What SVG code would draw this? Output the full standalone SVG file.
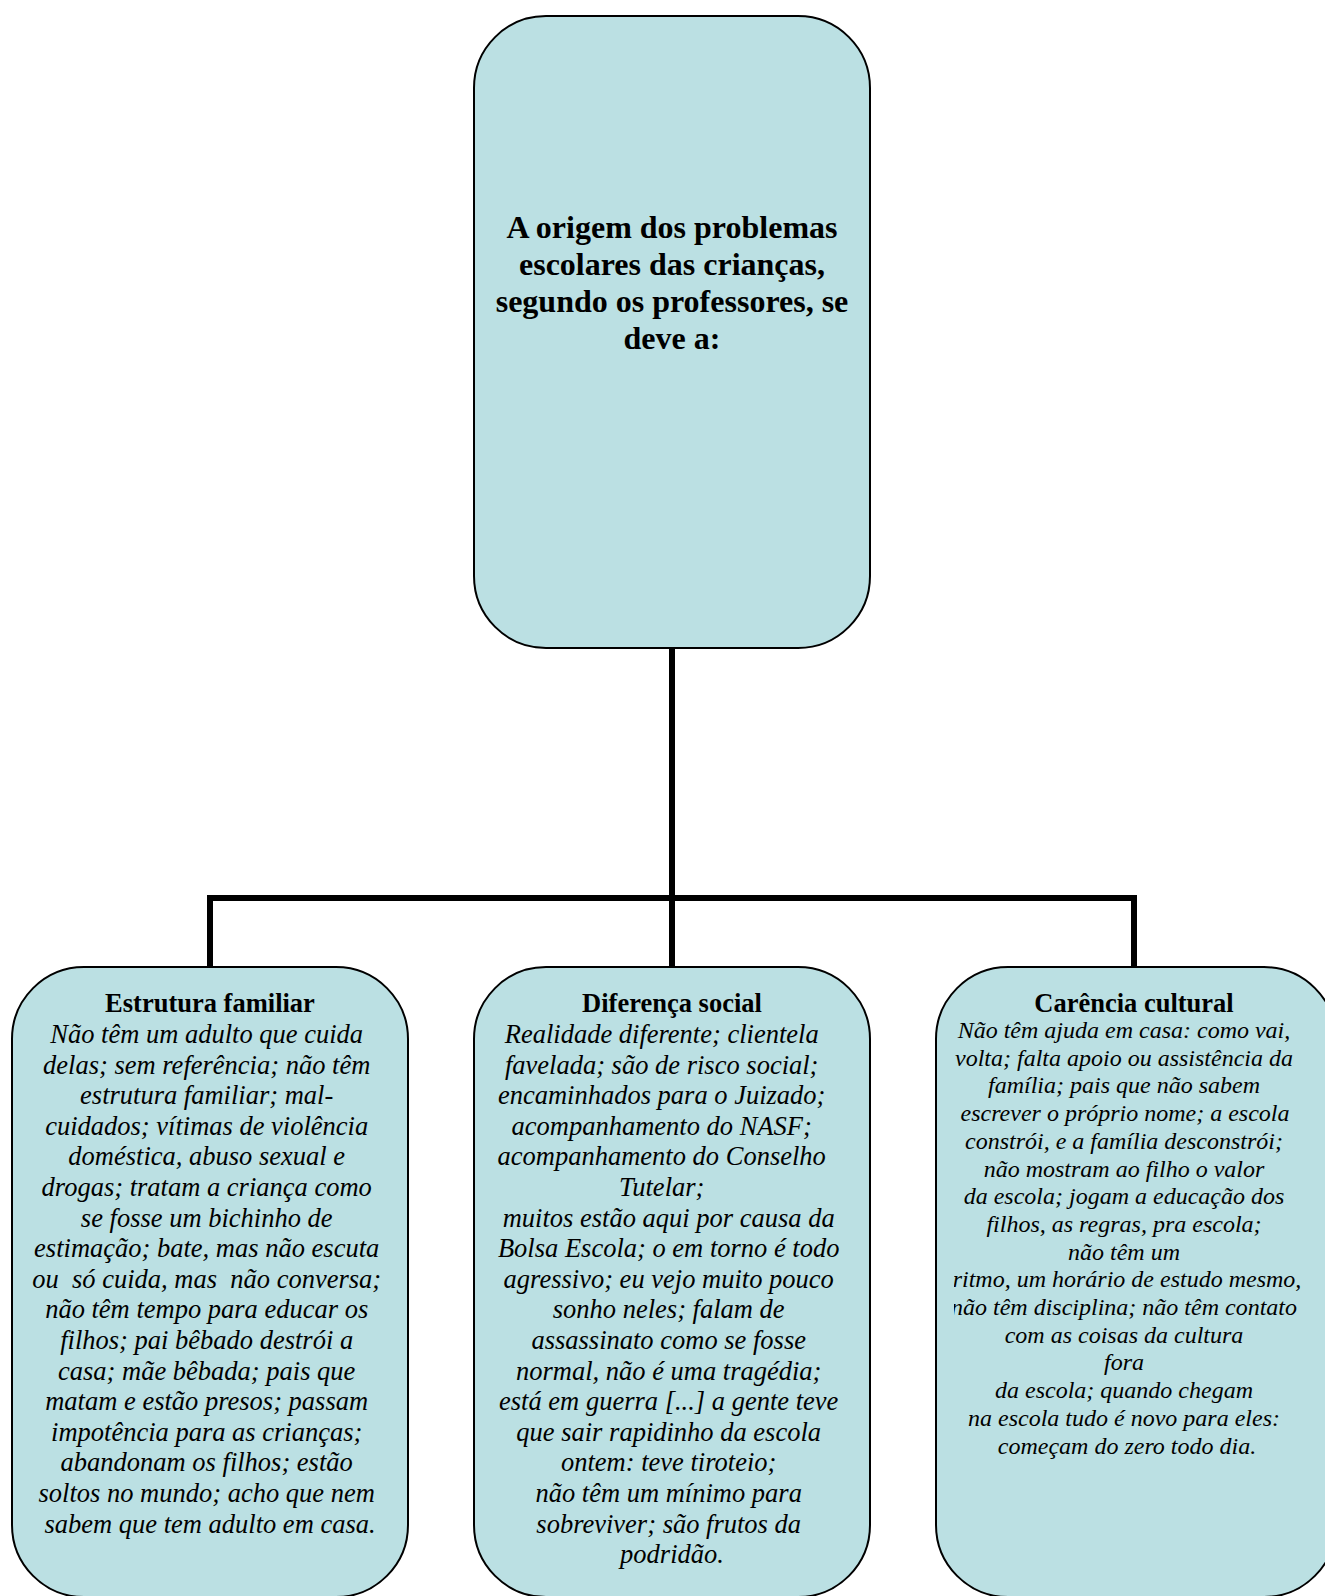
<svg xmlns="http://www.w3.org/2000/svg" width="1325" height="1596" viewBox="0 0 1325 1596">
<style>
.box{fill:#BBE0E3;stroke:#000;stroke-width:2}
.conn{fill:none;stroke:#000;stroke-width:6}
.title{font-family:"Liberation Serif","Times New Roman",serif;font-weight:bold;font-size:32px;text-anchor:middle;fill:#000}
.head{font-family:"Liberation Serif","Times New Roman",serif;font-weight:bold;font-size:26.5px;text-anchor:middle;fill:#000}
.body{font-family:"Liberation Serif","Times New Roman",serif;font-style:italic;font-size:26.5px;text-anchor:middle;fill:#000}
.body2{font-family:"Liberation Serif","Times New Roman",serif;font-style:italic;font-size:24px;text-anchor:middle;fill:#000}
</style>
<defs>
<clipPath id="rc"><rect x="954" y="960" width="371" height="640"/></clipPath>
</defs>
<g id="connectors">
<path class="conn" d="M672,648 V898 M210,898 H1134 M210,895 V967 M672,898 V967 M1134,895 V967"/>
</g>
<g id="root">
<rect class="box" x="474" y="16" width="396" height="632" rx="72" ry="72"/>
<text class="title" x="672" y="238">A origem dos problemas</text>
<text class="title" x="672" y="275">escolares das crianças,</text>
<text class="title" x="672" y="312">segundo os professores, se</text>
<text class="title" x="672" y="349">deve a:</text>
</g>
<g id="estrutura">
<rect class="box" x="12" y="967" width="396" height="630" rx="72" ry="72"/>
<text class="head" x="210" y="1012">Estrutura familiar</text>
<text class="body" x="210">
<tspan x="210" y="1043">Não têm um adulto que cuida</tspan>
<tspan x="210" dy="30.6">delas; sem referência; não têm</tspan>
<tspan x="210" dy="30.6">estrutura familiar; mal-</tspan>
<tspan x="210" dy="30.6">cuidados; vítimas de violência</tspan>
<tspan x="210" dy="30.6">doméstica, abuso sexual e</tspan>
<tspan x="210" dy="30.6">drogas; tratam a criança como</tspan>
<tspan x="210" dy="30.6">se fosse um bichinho de</tspan>
<tspan x="210" dy="30.6">estimação; bate, mas não escuta</tspan>
<tspan x="210" dy="30.6">ou&#160; só cuida, mas&#160; não conversa;</tspan>
<tspan x="210" dy="30.6">não têm tempo para educar os</tspan>
<tspan x="210" dy="30.6">filhos; pai bêbado destrói a</tspan>
<tspan x="210" dy="30.6">casa; mãe bêbada; pais que</tspan>
<tspan x="210" dy="30.6">matam e estão presos; passam</tspan>
<tspan x="210" dy="30.6">impotência para as crianças;</tspan>
<tspan x="210" dy="30.6">abandonam os filhos; estão</tspan>
<tspan x="210" dy="30.6">soltos no mundo; acho que nem</tspan>
<tspan x="210" dy="30.6">sabem que tem adulto em casa.</tspan>
</text>
</g>
<g id="diferenca">
<rect class="box" x="474" y="967" width="396" height="630" rx="72" ry="72"/>
<text class="head" x="672" y="1012">Diferença social</text>
<text class="body" x="665">
<tspan x="665" y="1043">Realidade diferente; clientela</tspan>
<tspan x="665" dy="30.6">favelada; são de risco social;</tspan>
<tspan x="665" dy="30.6">encaminhados para o Juizado;</tspan>
<tspan x="665" dy="30.6">acompanhamento do NASF;</tspan>
<tspan x="665" dy="30.6">acompanhamento do Conselho</tspan>
<tspan x="665" dy="30.6">Tutelar;</tspan>
<tspan x="672" dy="30.6">muitos estão aqui por causa da</tspan>
<tspan x="672" dy="30.6">Bolsa Escola; o em torno é todo</tspan>
<tspan x="672" dy="30.6">agressivo; eu vejo muito pouco</tspan>
<tspan x="672" dy="30.6">sonho neles; falam de</tspan>
<tspan x="672" dy="30.6">assassinato como se fosse</tspan>
<tspan x="672" dy="30.6">normal, não é uma tragédia;</tspan>
<tspan x="672" dy="30.6">está em guerra [...] a gente teve</tspan>
<tspan x="672" dy="30.6">que sair rapidinho da escola</tspan>
<tspan x="672" dy="30.6">ontem: teve tiroteio;</tspan>
<tspan x="672" dy="30.6">não têm um mínimo para</tspan>
<tspan x="672" dy="30.6">sobreviver; são frutos da</tspan>
<tspan x="672" dy="30.6">podridão.</tspan>
</text>
</g>
<g id="carencia">
<rect class="box" x="936" y="967" width="400" height="630" rx="72" ry="72"/>
<text class="head" x="1134" y="1012">Carência cultural</text>
<text class="body2" x="1128" clip-path="url(#rc)">
<tspan x="1127" y="1038">Não têm ajuda em casa: como vai,</tspan>
<tspan x="1127" dy="27.7">volta; falta apoio ou assistência da</tspan>
<tspan x="1127" dy="27.7">família; pais que não sabem</tspan>
<tspan x="1128" dy="27.7">escrever o próprio nome; a escola</tspan>
<tspan x="1127" dy="27.7">constrói, e a família desconstrói;</tspan>
<tspan x="1127" dy="27.7">não mostram ao filho o valor</tspan>
<tspan x="1127" dy="27.7">da escola; jogam a educação dos</tspan>
<tspan x="1127" dy="27.7">filhos, as regras, pra escola;</tspan>
<tspan x="1127" dy="27.7">não têm um</tspan>
<tspan x="1130" dy="27.7">ritmo, um horário de estudo mesmo,</tspan>
<tspan x="1127" dy="27.7">não têm disciplina; não têm contato</tspan>
<tspan x="1127" dy="27.7">com as coisas da cultura</tspan>
<tspan x="1127" dy="27.7">fora</tspan>
<tspan x="1127" dy="27.7">da escola; quando chegam</tspan>
<tspan x="1127" dy="27.7">na escola tudo é novo para eles:</tspan>
<tspan x="1127" dy="27.7">começam do zero todo dia.</tspan>
</text>
</g>
</svg>
